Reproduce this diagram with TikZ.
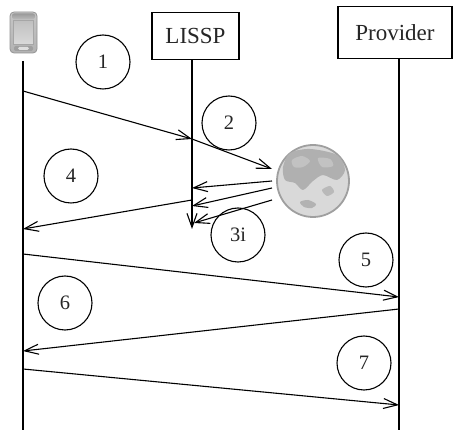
\documentclass[tikz,border=0pt]{standalone}
\usepackage{fontspec}
\setmainfont{Liberation Serif}
\usetikzlibrary{arrows.meta}
\begin{document}
\begin{tikzpicture}[x=1pt,y=-1pt,
  life/.style={line width=1.1pt},
  msg/.style={line width=1.1pt,-{Straight Barb[length=14pt,width=10pt,line width=1.1pt]}},
  party/.style={draw,line width=1.2pt,inner sep=0pt,text=black!85,font=\fontsize{23}{27}\selectfont},
  stepnum/.style={draw,circle,line width=1.1pt,minimum size=54pt,inner sep=0pt,text=black!85,font=\fontsize{20.5}{24}\selectfont}]
\fill[white] (0,0) rectangle (453,430);
\useasboundingbox (0,0) rectangle (453,430);

% handheld device
\shade[top color=gray!45,bottom color=gray!60,draw=gray!85,line width=0.8pt,rounded corners=4pt]
  (10,12) rectangle (37,53);
\shade[top color=gray!80,bottom color=gray!55,rounded corners=2pt] (12,13.5) rectangle (35,19);
\shade[top color=gray!50,bottom color=gray!30,draw=gray!70,line width=0.6pt] (13.5,20) rectangle (33.5,44);
\fill[gray!75,rounded corners=2pt] (14,46) rectangle (33,51);
\fill[gray!25,rounded corners=1.5pt] (18,47) rectangle (29,50);

% parties
\node[party,minimum width=87pt,minimum height=47.5pt] (lissp) at (195.5,36) {LISSP};
\node[party,minimum width=114pt,minimum height=52pt] (prov) at (395,32.5) {Provider};

% globe
\node[circle,minimum size=72pt,inner sep=0pt,fill=gray!30,draw=gray!75,line width=1.8pt] (globe) at (313,181) {};
\fill[gray!62] plot[smooth cycle] coordinates {(283,167) (290,153) (310,149) (337,155) (345,170)
  (337,180) (323,175) (313,181) (303,190) (295,183) (285,180)};
\fill[gray!48] plot[smooth cycle] coordinates {(292,160) (302,156) (310,161) (303,167) (294,167)};
\fill[gray!48] plot[smooth cycle] coordinates {(318,158) (330,159) (333,166) (322,167)};
\fill[gray!60] plot[smooth cycle] coordinates {(300,202) (308,200) (316,204) (312,208) (304,207)};
\fill[gray!55] plot[smooth cycle] coordinates {(322,190) (330,186) (334,192) (327,196)};

% lifeline end points
\coordinate (dtop) at (23,61);
\coordinate (dbot) at (23,430);
\coordinate (ltop) at (192,60);
\coordinate (lbot) at (192,229);
\coordinate (pbot) at (399,430);
\coordinate (ptop) at (399,58);

\draw[life] (dtop) -- (dbot);
\draw[life] (ptop) -- (pbot);
\draw[msg] (ltop) -- (lbot);

% message end points
\coordinate (a1) at (23,91);   \coordinate (b1) at (192,139);
\coordinate (a2) at (192,139); \coordinate (b2) at (272,169);
\coordinate (a3) at (272,181); \coordinate (b3) at (192,188);
\coordinate (a4) at (272,188); \coordinate (b4) at (192,206);
\coordinate (a5) at (272,200); \coordinate (b5) at (194,223);
\coordinate (a6) at (192,200); \coordinate (b6) at (23,229);
\coordinate (a7) at (23,254);  \coordinate (b7) at (399,297);
\coordinate (a8) at (399,309); \coordinate (b8) at (23,351);
\coordinate (a9) at (23,369);  \coordinate (b9) at (399,405);

\foreach \i in {1,...,9} \draw[msg] (a\i) -- (b\i);

% step numbers
\node[stepnum] (s1) at (103,62) {1};
\node[stepnum] (s2) at (229,123) {2};
\node[stepnum] (s3) at (238,235) {3i};
\node[stepnum] (s4) at (71,176) {4};
\node[stepnum] (s5) at (366,260) {5};
\node[stepnum] (s6) at (65,303) {6};
\node[stepnum] (s7) at (364,363) {7};
\end{tikzpicture}
\end{document}
